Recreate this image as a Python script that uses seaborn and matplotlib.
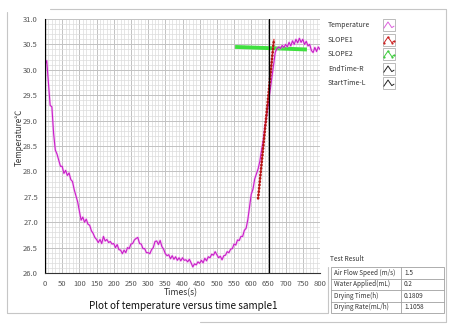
import matplotlib
matplotlib.use("Agg")
import pandas as pd
import matplotlib.pyplot as plt
import seaborn as sns
from matplotlib.lines import Line2D
from matplotlib.patches import Rectangle
from matplotlib.ticker import MultipleLocator, FormatStrFormatter

# ---- data -----------------------------------------------------------------
time_s = list(range(0, 801, 5))
temperature = [
    30.10, 30.18, 29.75, 29.30, 29.27, 28.75, 28.42, 28.34, 28.22, 28.10,
    28.10, 27.96, 28.02, 27.92, 27.97, 27.84, 27.80, 27.64, 27.52, 27.40,
    27.22, 27.04, 27.10, 27.00, 27.06, 26.96, 26.94, 26.83, 26.78, 26.70,
    26.66, 26.60, 26.66, 26.58, 26.72, 26.63, 26.66, 26.60, 26.62, 26.57,
    26.58, 26.50, 26.56, 26.46, 26.45, 26.38, 26.45, 26.40, 26.50, 26.48,
    26.57, 26.58, 26.65, 26.68, 26.70, 26.58, 26.57, 26.48, 26.48, 26.40,
    26.40, 26.38, 26.46, 26.50, 26.62, 26.63, 26.56, 26.64, 26.52, 26.47,
    26.38, 26.34, 26.36, 26.28, 26.34, 26.27, 26.32, 26.25, 26.30, 26.24,
    26.30, 26.25, 26.26, 26.22, 26.27, 26.20, 26.12, 26.18, 26.16, 26.22,
    26.19, 26.25, 26.20, 26.29, 26.24, 26.32, 26.30, 26.37, 26.35, 26.42,
    26.36, 26.30, 26.33, 26.26, 26.34, 26.35, 26.42, 26.40, 26.47, 26.48,
    26.57, 26.55, 26.65, 26.64, 26.72, 26.72, 26.84, 26.88, 27.05, 27.30,
    27.55, 27.65, 27.85, 27.95, 28.05, 28.20, 28.42, 28.62, 28.90, 29.10,
    29.35, 29.60, 29.85, 30.10, 30.35, 30.42, 30.45, 30.42, 30.48, 30.44,
    30.50, 30.45, 30.54, 30.47, 30.57, 30.50, 30.60, 30.53, 30.62, 30.54,
    30.60, 30.50, 30.56, 30.47, 30.50, 30.38, 30.34, 30.44, 30.36, 30.45,
    30.40,
]

slope1_time = [620, 666]
slope1_temp = [27.47, 30.60]
slope2_time = [553, 762]
slope2_temp = [30.45, 30.40]
end_time_r = 651
start_time_l = 0

legend_labels = ["Temperature", "SLOPE1", "SLOPE2", "EndTime-R", "StartTime-L"]
result_names = ["Air Flow Speed (m/s)", "Water Applied(mL)",
                "Drying Time(h)", "Drying Rate(mL/h)"]
result_values = ["1.5", "0.2", "0.1809", "1.1058"]

# ---- style ----------------------------------------------------------------
sns.set_style("white")
plt.rcParams["font.family"] = ["Noto Sans CJK SC", "DejaVu Sans"]

W, H = 454, 324
fig = plt.figure(figsize=(W / 100, H / 100), dpi=100)
fig.patch.set_facecolor("white")


def fx(x):
    return x / W


def fy(y):
    return 1 - y / H


ax = fig.add_axes([fx(45), fy(273), 275 / W, 254 / H])

df = pd.DataFrame({"time": time_s, "temp": temperature})
s1 = pd.DataFrame({"time": slope1_time, "temp": slope1_temp})
s2 = pd.DataFrame({"time": slope2_time, "temp": slope2_temp})

MAGENTA = "#c81fc8"

sns.lineplot(data=s2, x="time", y="temp", ax=ax, color="#3fe03f",
             linewidth=2.8, solid_capstyle="butt", zorder=3)
sns.lineplot(data=df, x="time", y="temp", ax=ax, color="#f29cf0",
             linewidth=1.8, alpha=0.45, zorder=4)
sns.lineplot(data=df, x="time", y="temp", ax=ax, color=MAGENTA,
             linewidth=0.8, zorder=5)
sns.lineplot(data=s1, x="time", y="temp", ax=ax, color="#e53030",
             linewidth=0.9, zorder=6)
sns.lineplot(data=s1, x="time", y="temp", ax=ax, color="#b31515",
             linewidth=2.0, linestyle=(0, (0.05, 1.15)),
             dash_capstyle="round", zorder=7)
ax.axvline(end_time_r, color="black", linewidth=0.9, zorder=8)
ax.axvline(start_time_l, color="black", linewidth=0.9, zorder=8)

ax.set_xlim(0, 800)
ax.set_ylim(26, 31)
ax.xaxis.set_major_locator(MultipleLocator(50))
ax.xaxis.set_minor_locator(MultipleLocator(10))
ax.yaxis.set_major_locator(MultipleLocator(0.5))
ax.yaxis.set_minor_locator(MultipleLocator(0.1))
ax.yaxis.set_major_formatter(FormatStrFormatter("%.1f"))

ax.set_axisbelow(True)
ax.grid(which="major", color="#c2c2c2", linewidth=0.7)
ax.grid(which="minor", color="#dcdcdc", linewidth=0.5)

for side in ("top", "right"):
    ax.spines[side].set_visible(False)
for side in ("left", "bottom"):
    ax.spines[side].set_color("#333333")
    ax.spines[side].set_linewidth(0.8)

ax.tick_params(axis="both", which="major", direction="out", length=3,
               width=0.6, color="#333333", labelsize=5.5,
               labelcolor="#555555", pad=2)
ax.tick_params(axis="both", which="minor", direction="out", length=1.6,
               width=0.5, color="#333333")
ax.set_xlabel("")
ax.set_ylabel("")

# axis titles and caption
fig.text(fx(19), fy(137), "Temperature℃", rotation=90, fontsize=5.8,
         color="#333333", ha="center", va="center")
fig.text(fx(181), fy(293), "Times(s)", fontsize=6.2, color="#333333",
         ha="center", va="center")
fig.text(fx(183), fy(306), "Plot of temperature versus time sample1",
         fontsize=7.2, color="#111111", ha="center", va="center")

# panel frame
FRAME = "#c6c6c6"
for (x0, y0, x1, y1) in [(50, 9, 446, 9), (446, 9, 446, 322),
                         (200, 322, 446, 322), (7, 12, 7, 313),
                         (7, 313, 328, 313), (328, 267, 328, 313)]:
    fig.add_artist(Line2D([fx(x0), fx(x1)], [fy(y0), fy(y1)],
                          color=FRAME, linewidth=0.8))

# legend panel
legend_rows = [25, 40, 54, 69, 83]
legend_colors = ["#dd5fdd", "#cc2222", "#3fcc3f", "#222222", "#222222"]
legend_marks = [False, True, True, False, False]
for lab, row, col, mk in zip(legend_labels, legend_rows, legend_colors,
                             legend_marks):
    fig.text(fx(328), fy(row), lab, fontsize=5.0, color="#333333",
             ha="left", va="center")
    fig.add_artist(Rectangle((fx(382.5), fy(row + 5.5)), 12.5 / W, 11 / H,
                             facecolor="white", edgecolor="#b0b0b0",
                             linewidth=0.6))
    gx = [383.8, 388.0, 391.8, 394.0]
    gy = [row + 3.2, row - 3.0, row + 2.6, row + 1.2]
    fig.add_artist(Line2D([fx(v) for v in gx], [fy(v) for v in gy],
                          color=col, linewidth=0.7,
                          marker="o" if mk else None, markersize=1.6,
                          markerfacecolor=col, markeredgewidth=0))

# result table
fig.text(fx(330), fy(259), "Test Result", fontsize=4.8, color="#333333",
         ha="left", va="center")
fig.add_artist(Rectangle((fx(331), fy(313)), (444 - 331) / W, (313 - 267) / H,
                         facecolor="white", edgecolor="#a0a0a0",
                         linewidth=0.6))
row_edges = [267, 278.5, 290, 301.5, 313]
for yline in row_edges[1:-1]:
    fig.add_artist(Line2D([fx(331), fx(444)], [fy(yline), fy(yline)],
                          color="#a0a0a0", linewidth=0.6))
fig.add_artist(Line2D([fx(401), fx(401)], [fy(267), fy(313)],
                      color="#a0a0a0", linewidth=0.6))
for i, (name, val) in enumerate(zip(result_names, result_values)):
    yc = (row_edges[i] + row_edges[i + 1]) / 2
    fig.text(fx(333.5), fy(yc), name, fontsize=4.6, color="#333333",
             ha="left", va="center")
    fig.text(fx(404), fy(yc), val, fontsize=4.6, color="#333333",
             ha="left", va="center")

fig.savefig("out.png", dpi=100)
